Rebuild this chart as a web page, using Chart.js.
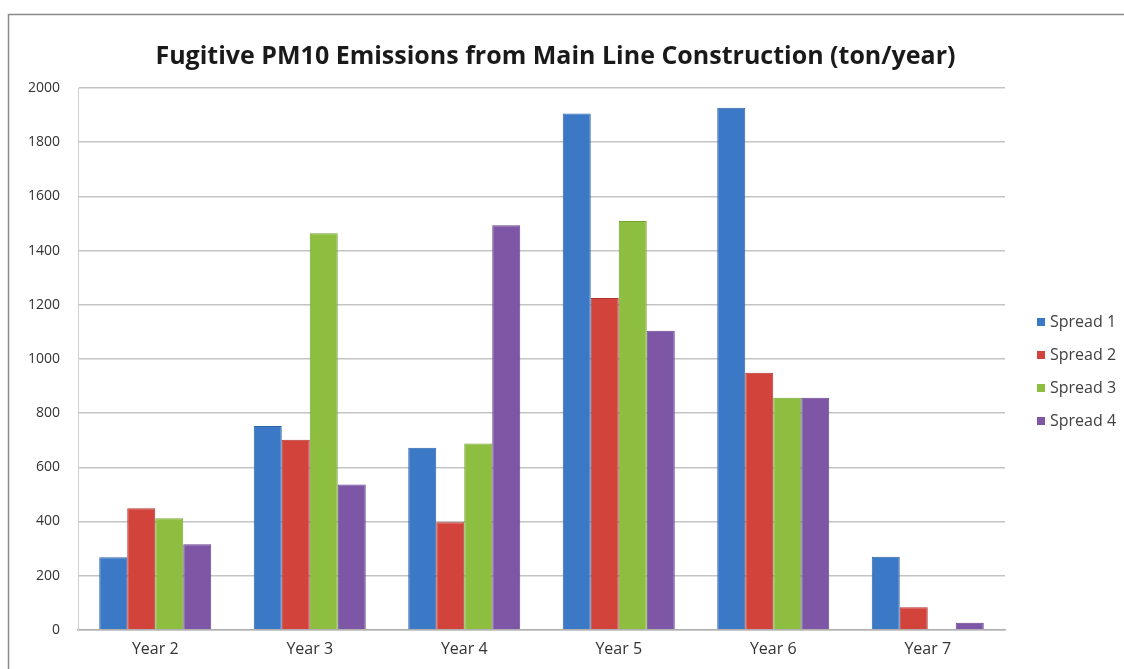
<!DOCTYPE html>
<html>
<head>
<meta charset="utf-8">
<script src="https://cdn.jsdelivr.net/npm/chart.js@4"></script>
<style>
  body { margin: 0; background: #fff; }
  #wrap { width: 1124px; height: 669px; }
</style>
</head>
<body>
<div id="wrap"><canvas id="pm-chart" width="1124" height="669"></canvas></div>
<script>
const YEARS = ["Year 2", "Year 3", "Year 4", "Year 5", "Year 6", "Year 7"];
const SPREAD_1 = [268, 752, 672, 1906, 1927, 270];
const SPREAD_2 = [449, 702, 397, 1225, 949, 83];
const SPREAD_3 = [412, 1464, 688, 1509, 857, 0];
const SPREAD_4 = [316, 536, 1493, 1104, 857, 26];
const SERIES_NAMES = ["Spread 1", "Spread 2", "Spread 3", "Spread 4"];
const Y_TICKS = [0, 200, 400, 600, 800, 1000, 1200, 1400, 1600, 1800, 2000];

const COLORS = [
    { fill: "#3B78C6", border: "#2F63A8" },
    { fill: "#D2433B", border: "#B03530" },
    { fill: "#8DBE3F", border: "#76A332" },
    { fill: "#7D57A6", border: "#65448C" }
];
const FONT = "'Open Sans', 'DejaVu Sans', sans-serif";

const frame = {
    id: "frame",
    beforeDraw(chart) {
        const ctx = chart.ctx;
        ctx.save();
        ctx.strokeStyle = "#8a8a8a";
        ctx.lineWidth = 1.5;
        ctx.beginPath();
        ctx.moveTo(8.5, 669);
        ctx.lineTo(8.5, 14.5);
        ctx.lineTo(1124, 14.5);
        ctx.stroke();
        ctx.restore();
    }
};

// legend drawn by hand so the plot keeps its width
const sideLegend = {
    id: "sideLegend",
    afterDraw(chart) {
        const ctx = chart.ctx;
        ctx.save();
        ctx.font = "16px " + FONT;
        ctx.textBaseline = "middle";
        chart.data.datasets.forEach((ds, i) => {
            const y = 322 + i * 33;
            ctx.fillStyle = ds.backgroundColor;
            ctx.fillRect(1037, y - 4, 8, 8);
            ctx.fillStyle = "#404040";
            ctx.fillText(ds.label, 1050, y);
        });
        ctx.restore();
    }
};

const seriesData = [SPREAD_1, SPREAD_2, SPREAD_3, SPREAD_4];
const datasets = seriesData.map((values, i) => ({
    label: SERIES_NAMES[i],
    data: values,
    backgroundColor: COLORS[i].fill,
    borderColor: COLORS[i].border,
    borderWidth: 1,
    barPercentage: 1.0,
    categoryPercentage: 0.725
}));

new Chart(document.getElementById("pm-chart"), {
    type: "bar",
    data: { labels: YEARS, datasets },
    plugins: [frame, sideLegend],
    options: {
        responsive: false,
        animation: false,
        layout: { padding: { left: 20, right: 33, top: 30, bottom: 0 } },
        plugins: {
            legend: { display: false },
            tooltip: { enabled: false },
            title: {
                display: true,
                text: "Fugitive PM10 Emissions from Main Line Construction (ton/year)",
                color: "#1a1a1a",
                font: { family: FONT, size: 25, weight: "bold", lineHeight: 1.2 },
                padding: { top: 12, bottom: 16 }
            }
        },
        scales: {
            x: {
                grid: { display: false, drawTicks: false },
                border: { color: "#b0b0b0", width: 1.5 },
                ticks: { color: "#333", padding: 10, font: { family: FONT, size: 16 } }
            },
            y: {
                min: 0,
                max: 2000,
                afterFit(scale) { scale.width = 58; },
                afterBuildTicks(scale) { scale.ticks = Y_TICKS.map(v => ({ value: v })); },
                grid: { color: "#c4c4c4", lineWidth: 1.5, drawTicks: false },
                border: { color: "#d0d0d0", width: 1 },
                ticks: {
                    color: "#333",
                    padding: 18,
                    font: { family: FONT, size: 14 },
                    callback: v => String(v)
                }
            },
            // empty right-hand axis: reserves the legend column
            side: {
                position: "right",
                display: true,
                afterFit(scale) { scale.width = 86; },
                grid: { display: false, drawTicks: false },
                border: { display: false },
                ticks: { display: false }
            }
        }
    }
});
</script>
</body>
</html>
